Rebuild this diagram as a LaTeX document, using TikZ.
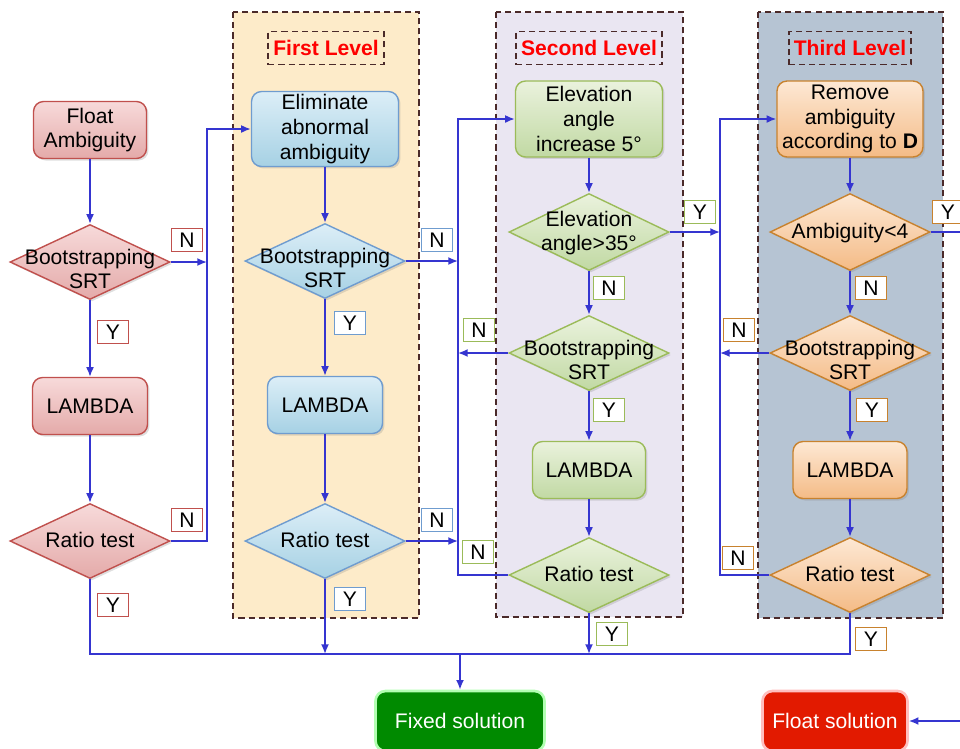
\documentclass[tikz,border=0pt]{standalone}
\usepackage{fontspec}
\setmainfont{Liberation Sans}
\usetikzlibrary{arrows.meta,shapes,shadows}

\definecolor{linkblue}{HTML}{3535D0}
\definecolor{panelline}{HTML}{4B2A2A}
\definecolor{panelA}{HTML}{FDEBC9}
\definecolor{panelB}{HTML}{EAE6F2}
\definecolor{panelC}{HTML}{B6C4D3}
\definecolor{redline}{HTML}{C0504D}
\definecolor{redtop}{HTML}{F7DADA}
\definecolor{redbot}{HTML}{E4AAA9}
\definecolor{blueline}{HTML}{6F9CCF}
\definecolor{bluetop}{HTML}{DCEEF7}
\definecolor{bluebot}{HTML}{A6D1E4}
\definecolor{greenline}{HTML}{9BBB59}
\definecolor{greentop}{HTML}{EAF2DD}
\definecolor{greenbot}{HTML}{C1D9A3}
\definecolor{orangeline}{HTML}{C8822E}
\definecolor{orangetop}{HTML}{FDE8D4}
\definecolor{orangebot}{HTML}{F4BB86}
\definecolor{fixedgreen}{HTML}{008A00}
\definecolor{floatred}{HTML}{E21A00}

\newcommand{\dtext}[2][4pt]{\raisebox{-#1}[0pt][0pt]{\makebox[0pt]{\begin{tabular}{@{}c@{}}#2\end{tabular}}}}

\tikzset{
  txt/.style={font=\fontsize{12}{14}\selectfont},
  proc/.style={txt, rectangle, rounded corners=0.2cm, line width=0.8pt, align=center, inner sep=1pt,
    drop shadow={opacity=0.25, shadow xshift=0.04cm, shadow yshift=-0.04cm}},
  lam/.style={proc, minimum width=2.3cm, minimum height=1.14cm},
  decision/.style={txt, diamond, line width=0.8pt, inner sep=0pt, minimum width=3.2cm, minimum height=1.5cm,
    drop shadow={opacity=0.25, shadow xshift=0.04cm, shadow yshift=-0.04cm}},
  redc/.style={draw=redline, top color=redtop, bottom color=redbot},
  bluec/.style={draw=blueline, top color=bluetop, bottom color=bluebot},
  greenc/.style={draw=greenline, top color=greentop, bottom color=greenbot},
  orangec/.style={draw=orangeline, top color=orangetop, bottom color=orangebot},
  yn/.style={txt, draw, fill=white, line width=0.9pt, minimum width=0.62cm, minimum height=0.46cm, inner sep=0pt},
  panel/.style={draw=panelline, line width=0.9pt, dash pattern=on 3.5pt off 2.3pt},
  leveltitle/.style={panel, txt, font=\bfseries\fontsize{12}{14}\selectfont, text=red, minimum height=0.66cm, inner sep=0.1cm},
  result/.style={txt, rectangle, rounded corners=0.2cm, text=white, line width=1.5pt, minimum height=1.2cm}
}

\begin{document}
\begin{tikzpicture}[x=0.02cm, y=-0.02cm, >={Latex[length=5.5pt,width=4.5pt]}]
\useasboundingbox (0,0) rectangle (960,748);
\clip (0,0) rectangle (960,748);
\fill[white] (0,0) rectangle (960,748);

\draw[panel, fill=panelA] (233,12) rectangle (419,618);
\draw[panel, fill=panelB] (496,12) rectangle (683,617);
\draw[panel, fill=panelC] (758,12) rectangle (943,618);

\node[leveltitle] (t1) at (326,48) {First Level};
\node[leveltitle] (t2) at (589,48) {Second Level};
\node[leveltitle] (t3) at (850,48) {Third Level};

\node[proc, redc, minimum width=2.26cm, minimum height=1.14cm] (fa) at (90,130) {Float\\Ambiguity};
\node[decision, redc] (bs0) at (90,262) {\dtext[8.5pt]{Bootstrapping\\SRT}};
\node[lam, redc] (lam0) at (90,406) {LAMBDA};
\node[decision, redc] (rt0) at (90,541) {\dtext{Ratio test}};

\node[proc, bluec, minimum width=2.94cm, minimum height=1.5cm] (elim) at (325,129) {Eliminate\\abnormal\\ambiguity};
\node[decision, bluec] (bs1) at (325,261) {\dtext[8.5pt]{Bootstrapping\\SRT}};
\node[lam, bluec] (lam1) at (325,405) {LAMBDA};
\node[decision, bluec] (rt1) at (325,541) {\dtext{Ratio test}};

\node[proc, greenc, minimum width=2.94cm, minimum height=1.52cm] (elev) at (589,119) {Elevation\\angle\\increase 5°};
\node[decision, greenc, minimum height=1.54cm] (ea) at (589,232) {\dtext{Elevation\\angle>35°}};
\node[decision, greenc] (bs2) at (589,353) {\dtext[8.5pt]{Bootstrapping\\SRT}};
\node[lam, greenc, minimum width=2.26cm] (lam2) at (589,470) {LAMBDA};
\node[decision, greenc] (rt2) at (589,575) {\dtext{Ratio test}};

\node[proc, orangec, minimum width=2.92cm, minimum height=1.52cm] (remove) at (850,119) {Remove\\ambiguity\\according to \textbf{D}};
\node[decision, orangec, minimum height=1.54cm] (amb) at (850,232) {\dtext{Ambiguity<4}};
\node[decision, orangec] (bs3) at (850,353) {\dtext[8.5pt]{Bootstrapping\\SRT}};
\node[lam, orangec, minimum width=2.28cm] (lam3) at (850,470) {LAMBDA};
\node[decision, orangec] (rt3) at (850,575) {\dtext{Ratio test}};

\node[result, fill=fixedgreen, draw=green!30!white, minimum width=3.38cm] (fixed) at (460,721) {Fixed solution};
\node[result, fill=floatred, draw=red!25!white, minimum width=2.9cm] (float) at (835,721) {Float solution};

\node[yn, draw=redline] (bs0n) at (187,240) {N};
\node[yn, draw=redline] (bs0y) at (113,332) {Y};
\node[yn, draw=redline] (rt0n) at (187,520) {N};
\node[yn, draw=redline] (rt0y) at (113,605) {Y};
\node[yn, draw=blueline] (bs1n) at (437,240) {N};
\node[yn, draw=blueline] (bs1y) at (350,323) {Y};
\node[yn, draw=blueline] (rt1n) at (437,520) {N};
\node[yn, draw=blueline] (rt1y) at (350,599) {Y};
\node[yn, draw=greenline] (eay) at (700,212) {Y};
\node[yn, draw=greenline] (ean) at (609,288) {N};
\node[yn, draw=greenline] (bs2n) at (479,330) {N};
\node[yn, draw=greenline] (bs2y) at (609,410) {Y};
\node[yn, draw=greenline] (rt2n) at (478,552) {N};
\node[yn, draw=greenline] (rt2y) at (612,634) {Y};
\node[yn, draw=orangeline] (amby) at (948,212) {Y};
\node[yn, draw=orangeline] (ambn) at (871,288) {N};
\node[yn, draw=orangeline] (bs3n) at (739,330) {N};
\node[yn, draw=orangeline] (bs3y) at (872,410) {Y};
\node[yn, draw=orangeline] (rt3n) at (738,558) {N};
\node[yn, draw=orangeline] (rt3y) at (871,639) {Y};

\coordinate (bus0) at (207,0);
\coordinate (bus1) at (458,0);
\coordinate (bus2) at (720,0);
\coordinate (bot) at (460,654);
\coordinate (fin) at (990,721);

\begin{scope}[draw=linkblue, line width=0.9pt]
\draw[->] (fa) -- (bs0);
\draw[->] (bs0) -- (lam0);
\draw[->] (lam0) -- (rt0);
\draw[->] (bs0.east) -- (bs0.east -| bus0);
\draw[->] (rt0.east) -- (rt0.east -| bus0) |- (elim.west);

\draw[->] (elim) -- (bs1);
\draw[->] (bs1) -- (lam1);
\draw[->] (lam1) -- (rt1);
\draw[->] (bs1.east) -- (bs1.east -| bus1);
\draw[->] (rt1.east) -- (rt1.east -| bus1);

\draw[->] (elev) -- (ea);
\draw[->] (ea) -- (bs2);
\draw[->] (bs2) -- (lam2);
\draw[->] (lam2) -- (rt2);
\draw[->] (bs2.west) -- (bs2.west -| bus1);
\draw[->] (rt2.west) -- (rt2.west -| bus1) |- (elev.west);
\draw[->] (ea.east) -- (ea.east -| bus2);

\draw[->] (remove) -- (amb);
\draw[->] (amb) -- (bs3);
\draw[->] (bs3) -- (lam3);
\draw[->] (lam3) -- (rt3);
\draw[->] (bs3.west) -- (bs3.west -| bus2);
\draw[->] (rt3.west) -- (rt3.west -| bus2) |- (remove.west);
\draw[->] (amb.east) -| (fin) -- (float.east);

\draw (rt0.south) |- (bot) -| (rt3.south);
\draw[->] (rt1.south) -- (rt1.south |- bot);
\draw[->] (rt2.south) -- (rt2.south |- bot);
\draw[->] (bot) -- (fixed);
\end{scope}
\end{tikzpicture}
\end{document}
